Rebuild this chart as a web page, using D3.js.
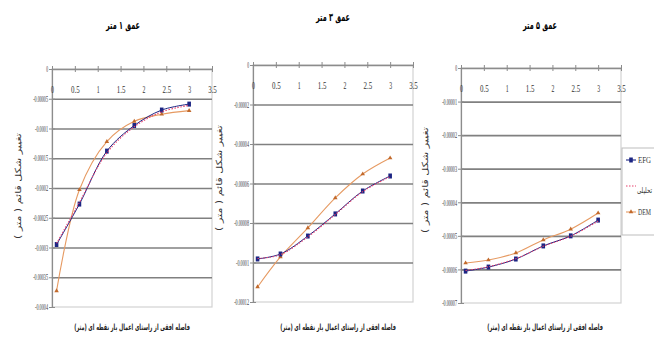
<!DOCTYPE html>
<html>
<head>
<meta charset="utf-8">
<script src="https://cdn.jsdelivr.net/npm/d3@7"></script>
<style>
  body { margin: 0; background: #fff; }
  svg { display: block; }
</style>
</head>
<body>
<svg id="chart" width="654" height="338"></svg>
<script>
// distances from the load point (m)
const xValues = [0.1, 0.6, 1.2, 1.8, 2.4, 3.0];
const xTicks = [0, 0.5, 1, 1.5, 2, 2.5, 3, 3.5];

// depth 1 m
const efg1 = [-0.000295, -0.000227, -0.000138, -0.000095, -0.000069, -0.000059];
const ana1 = [-0.000293, -0.000224, -0.000141, -0.000097, -0.000072, -0.000061];
const dem1 = [-0.000373, -0.000203, -0.000122, -0.000088, -0.000076, -0.000070];
const yTicks1 = [0, -0.00005, -0.0001, -0.00015, -0.0002, -0.00025, -0.0003, -0.00035, -0.0004];

// depth 3 m
const efg2 = [-0.0000982, -0.0000957, -0.0000866, -0.0000754, -0.0000638, -0.0000562];
const ana2 = [-0.0000980, -0.0000960, -0.0000870, -0.0000757, -0.0000641, -0.0000565];
const dem2 = [-0.0001124, -0.0000972, -0.0000825, -0.0000673, -0.0000552, -0.0000471];
const yTicks2 = [0, -0.00002, -0.00004, -0.00006, -0.00008, -0.0001, -0.00012];

// depth 5 m
const efg3 = [-0.0000605, -0.0000593, -0.0000569, -0.0000530, -0.0000500, -0.0000453];
const ana3 = [-0.0000603, -0.0000592, -0.0000568, -0.0000531, -0.0000501, -0.0000456];
const dem3 = [-0.0000581, -0.0000572, -0.0000551, -0.0000512, -0.0000480, -0.0000432];
const yTicks3 = [0, -0.00001, -0.00002, -0.00003, -0.00004, -0.00005, -0.00006, -0.00007];

const titles = ["عمق ۱ متر", "عمق ۳ متر", "عمق ۵ متر"];
const yTitle = "تغییر شکل قائم ( متر )";
const xTitle = "فاصله افقی از راستای اعمال بار نقطه ای (متر)";
const legendLabels = ["EFG", "تحلیلی", "DEM"];

const svg = d3.select("#chart");
const serif = "'Liberation Serif', 'Times New Roman', serif";
const persian = "'DejaVu Sans', sans-serif";
const blue = "#1c2583", pink = "#e8426e", orange = "#e69a62", orangeDark = "#c26a2c";

const fmtY = v => v === 0 ? "0" : String(+v.toFixed(6));

// squeeze a text horizontally to a given width (the original fonts are very narrow)
function squeeze(sel, cx, cy, width, rotate) {
  const w = sel.node().getComputedTextLength();
  sel.attr("x", 0).attr("y", 0)
    .attr("transform", `translate(${cx},${cy})${rotate ? " rotate(-90)" : ""} scale(${width / w},1)`);
}

const panels = [
  { left: 52, right: 212, top: 69, bottom: 307, ticks: yTicks1, efg: efg1, ana: ana1, dem: dem1,
    title: titles[0], tx: 123, ty: 29, ytx: 21, yty: 186, xtx: 132 },
  { left: 253, right: 413, top: 65, bottom: 302, ticks: yTicks2, efg: efg2, ana: ana2, dem: dem2,
    title: titles[1], tx: 333, ty: 21, ytx: 222, yty: 178, xtx: 338 },
  { left: 461, right: 621, top: 68, bottom: 303, ticks: yTicks3, efg: efg3, ana: ana3, dem: dem3,
    title: titles[2], tx: 540, ty: 29, ytx: 428, yty: 180, xtx: 545 }
];

panels.forEach(p => {
  const yMin = d3.min(p.ticks);
  const x = d3.scaleLinear().domain([0, 3.5]).range([p.left, p.right]);
  const y = d3.scaleLinear().domain([yMin, 0]).range([p.bottom, p.top]);
  const g = svg.append("g");

  // plot area border
  g.append("rect")
    .attr("x", p.left).attr("y", p.top)
    .attr("width", p.right - p.left).attr("height", p.bottom - p.top)
    .attr("fill", "none").attr("stroke", "#d2d2d2").attr("stroke-width", 1.2);

  // gridlines
  g.append("g")
    .attr("transform", `translate(${p.left},0)`)
    .call(d3.axisLeft(y)
      .tickValues(p.ticks.filter(t => t !== 0 && t !== yMin))
      .tickSize(-(p.right - p.left)).tickFormat(""))
    .call(a => a.select(".domain").remove())
    .selectAll("line").attr("stroke", "#808080").attr("stroke-width", 1.7);

  // y axis
  const ya = g.append("g")
    .attr("transform", `translate(${p.left},0)`)
    .call(d3.axisLeft(y).tickValues(p.ticks).tickSize(3).tickSizeOuter(0).tickFormat(fmtY));
  ya.select(".domain").attr("stroke", "#8c8c8c").attr("stroke-width", 1.2);
  ya.selectAll(".tick line").attr("x1", 3).attr("stroke", "#8c8c8c");
  ya.selectAll(".tick text")
    .attr("x", -4)
    .attr("font-family", serif).attr("font-size", 8.5).attr("fill", "#333")
    .attr("textLength", d => fmtY(d).length * 1.85)
    .attr("lengthAdjust", "spacingAndGlyphs");

  // x axis along y = 0, labels under it
  const xa = g.append("g")
    .attr("transform", `translate(0,${y(0)})`)
    .call(d3.axisBottom(x).tickValues(xTicks).tickSize(3).tickSizeOuter(0).tickFormat(d => String(d)));
  xa.select(".domain").attr("stroke", "#8c8c8c").attr("stroke-width", 1.6);
  xa.selectAll(".tick line").attr("y1", -3).attr("stroke", "#8c8c8c");
  xa.selectAll(".tick text")
    .attr("y", 17)
    .attr("font-family", serif).attr("font-size", 10).attr("fill", "#333")
    .attr("textLength", d => String(d).length * 2.9)
    .attr("lengthAdjust", "spacingAndGlyphs");

  const line = d3.line()
    .x((d, i) => x(xValues[i]))
    .y(d => y(d))
    .curve(d3.curveCatmullRom.alpha(0.5));

  // DEM
  g.append("path").datum(p.dem).attr("d", line)
    .attr("fill", "none").attr("stroke", orange).attr("stroke-width", 1.1);
  g.selectAll(".dem").data(p.dem).join("path")
    .attr("transform", (d, i) => `translate(${x(xValues[i])},${y(d)})`)
    .attr("d", d3.symbol(d3.symbolTriangle, 9))
    .attr("fill", orangeDark);

  // EFG
  g.append("path").datum(p.efg).attr("d", line)
    .attr("fill", "none").attr("stroke", blue).attr("stroke-width", 1);
  g.selectAll(".efg").data(p.efg).join("rect")
    .attr("x", (d, i) => x(xValues[i]) - 1.8)
    .attr("y", d => y(d) - 2.5)
    .attr("width", 3.6).attr("height", 5)
    .attr("fill", blue);

  // analytical
  g.append("path").datum(p.ana).attr("d", line)
    .attr("fill", "none").attr("stroke", pink).attr("stroke-width", 1.1)
    .attr("stroke-dasharray", "1.5,1.5");

  // titles
  squeeze(g.append("text")
    .attr("text-anchor", "middle")
    .attr("font-family", persian).attr("font-size", 11).attr("font-weight", "bold")
    .text(p.title), p.tx, p.ty, 34);

  squeeze(g.append("text")
    .attr("text-anchor", "middle")
    .attr("font-family", persian).attr("font-size", 8.5).attr("fill", "#333")
    .text(yTitle), p.ytx, p.yty, 106, true);

  squeeze(g.append("text")
    .attr("text-anchor", "middle")
    .attr("font-family", persian).attr("font-size", 8.5).attr("font-weight", "bold").attr("fill", "#222")
    .text(xTitle), p.xtx, 330, 116);
});

// legend (sits against the right edge, as in the original)
const lg = svg.append("g");
lg.append("rect")
  .attr("x", 622).attr("y", 148).attr("width", 60).attr("height", 87)
  .attr("fill", "#fff").attr("stroke", "#bdbdbd");
const legendY = [160, 186, 212];
legendLabels.forEach((lab, i) => {
  const yy = legendY[i];
  const col = i === 0 ? blue : i === 1 ? pink : orange;
  lg.append("line")
    .attr("x1", 626).attr("x2", 636).attr("y1", yy).attr("y2", yy)
    .attr("stroke", col).attr("stroke-width", 1.1)
    .attr("stroke-dasharray", i === 1 ? "1.5,1.5" : null);
  if (i === 0) {
    lg.append("rect").attr("x", 629.2).attr("y", yy - 2.5).attr("width", 3.6).attr("height", 5).attr("fill", blue);
  } else if (i === 2) {
    lg.append("path").attr("transform", `translate(631,${yy})`)
      .attr("d", d3.symbol(d3.symbolTriangle, 9)).attr("fill", orangeDark);
  }
  if (i === 1) {
    squeeze(lg.append("text")
      .attr("font-family", persian).attr("font-size", 8).attr("fill", "#333")
      .attr("text-anchor", "end")
      .text(lab), 652, yy + 7, 15);
  } else {
    squeeze(lg.append("text")
      .attr("font-family", serif).attr("font-size", 9).attr("fill", "#333")
      .text(lab), 638, yy + 3, 13);
  }
});
</script>
</body>
</html>
